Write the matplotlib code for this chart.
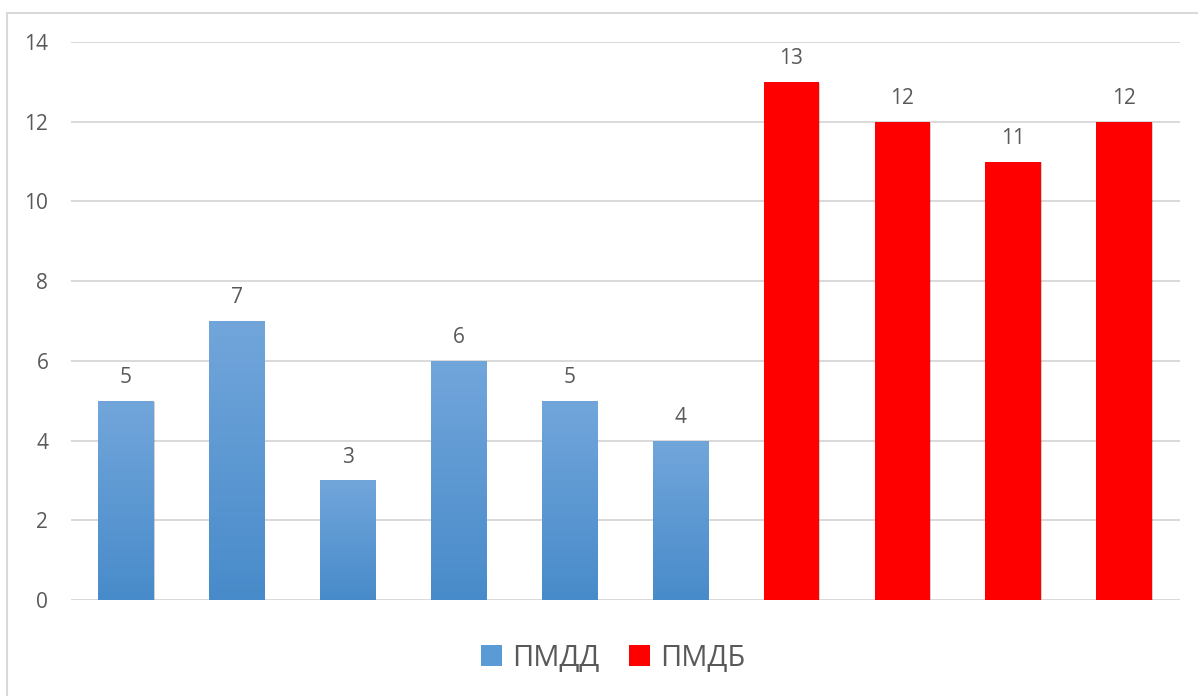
import numpy as np
import matplotlib.pyplot as plt
from matplotlib.patches import Patch
from matplotlib.lines import Line2D
import matplotlib.patheffects as pe

# Значения столбцов
values_pmdd = [5, 7, 3, 6, 5, 4]
values_pmdb = [13, 12, 11, 12]
series_names = ["ПМДД", "ПМДБ"]
y_ticks = [0, 2, 4, 6, 8, 10, 12, 14]

text_color = "#595959"
grid_color = "#d9d9d9"
blue_top = np.array([0x72, 0xa6, 0xdb]) / 255
blue_bottom = np.array([0x48, 0x8b, 0xca]) / 255
red = "#ff0000"

plt.rcParams["font.family"] = ["Open Sans", "DejaVu Sans"]

fig = plt.figure(figsize=(11.98, 6.96), dpi=100)
ax = fig.add_axes([70.5 / 1198, 1 - 600 / 696, 1109 / 1198, 558 / 696])

values = values_pmdd + values_pmdb
x = np.arange(len(values))
colors = [tuple(blue_bottom)] * len(values_pmdd) + [red] * len(values_pmdb)

shadow = [pe.SimplePatchShadow(offset=(0.6, -0.6), shadow_rgbFace="black", alpha=0.18), pe.Normal()]
bars = ax.bar(x, values, width=0.5, color=colors, zorder=3, path_effects=shadow)

# градиент для синих столбцов
grad = np.linspace(0, 1, 256)[:, None]
img = blue_top[None, None, :] * (1 - grad[:, :, None]) + blue_bottom[None, None, :] * grad[:, :, None]
for b in bars[:len(values_pmdd)]:
    x0, w, h = b.get_x(), b.get_width(), b.get_height()
    im = ax.imshow(img, extent=(x0, x0 + w, 0, h), origin="upper", aspect="auto", zorder=4)
    im.set_clip_path(b)

for xi, v in zip(x, values):
    ax.annotate(str(v), (xi, v), xytext=(0, 9), textcoords="offset points",
                ha="center", va="bottom", fontsize=15, color=text_color)

ax.set_xlim(-0.5, len(values) - 0.5)
ax.set_ylim(0, 14)
ax.set_yticks(y_ticks)
ax.set_yticklabels([str(t) for t in y_ticks])
ax.set_xticks([])
ax.tick_params(axis="y", length=0, pad=16, labelsize=15, labelcolor=text_color)
ax.grid(axis="y", color=grid_color, linewidth=1.4, zorder=0)
for s in ax.spines.values():
    s.set_visible(False)

# рамка диаграммы
fig.add_artist(Line2D([7 / 1198, 7 / 1198], [0, 1 - 13 / 696], color=grid_color, linewidth=1.5))
fig.add_artist(Line2D([7 / 1198, 1], [1 - 13 / 696, 1 - 13 / 696], color=grid_color, linewidth=1.5))

handles = [Patch(facecolor="#5b9bd5", edgecolor="none"), Patch(facecolor=red, edgecolor="none")]
fig.legend(handles, series_names, loc="center", bbox_to_anchor=(613 / 1198, 1 - 658 / 696),
           ncol=2, frameon=False, fontsize=21, labelcolor=text_color,
           handlelength=0.72, handleheight=0.72, handletextpad=0.35, columnspacing=1.0)

fig.savefig("out.png", dpi=100)
